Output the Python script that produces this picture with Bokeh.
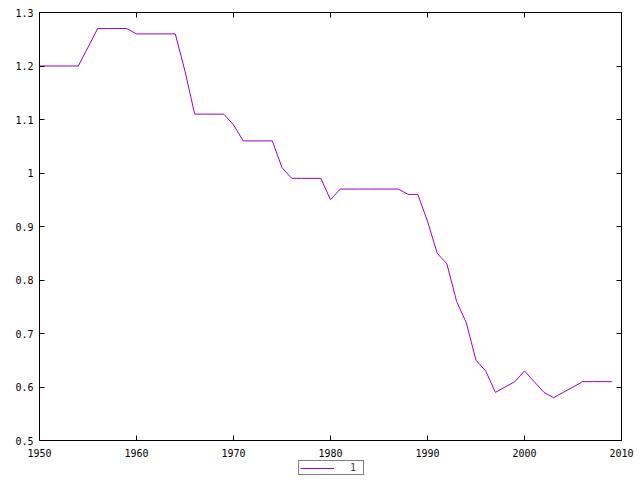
from bokeh.plotting import figure
from bokeh.layouts import column
from bokeh.models import (LinearAxis, FixedTicker, CustomJSTickFormatter, Legend,
                          LegendItem, Range1d)
from bokeh.embed import file_html
from bokeh.resources import INLINE

years = list(range(1950, 2010))
values = [1.20, 1.20, 1.20, 1.20, 1.20, 1.235, 1.27, 1.27, 1.27, 1.27,
          1.26, 1.26, 1.26, 1.26, 1.26, 1.19, 1.11, 1.11, 1.11, 1.11,
          1.09, 1.06, 1.06, 1.06, 1.06, 1.01, 0.99, 0.99, 0.99, 0.99,
          0.95, 0.97, 0.97, 0.97, 0.97, 0.97, 0.97, 0.97, 0.96, 0.96,
          0.91, 0.85, 0.83, 0.76, 0.72, 0.65, 0.63, 0.59, 0.60, 0.61,
          0.63, 0.61, 0.59, 0.58, 0.59, 0.60, 0.61, 0.61, 0.61, 0.61]
x_ticks = [1950, 1960, 1970, 1980, 1990, 2000, 2010]
y_ticks = [0.5, 0.6, 0.7, 0.8, 0.9, 1.0, 1.1, 1.2, 1.3]
series_name = "1"

FONT = "DejaVu Sans Mono"
FS = "10px"
COLOR = "#9400D3"
W, H = 640, 460

p = figure(width=W, height=H, output_backend="svg", toolbar_location=None,
           x_range=Range1d(1950, 2010), y_range=Range1d(0.5, 1.3),
           x_axis_location=None, y_axis_location=None,
           min_border_left=39, min_border_right=W - 621,
           min_border_top=12, min_border_bottom=H - 440)
p.grid.visible = False
p.outline_line_color = "black"
p.outline_line_width = 1
p.background_fill_color = "white"
p.border_fill_color = "white"

fmt = CustomJSTickFormatter(code="return String(Math.round(tick*10)/10);")


def make_axis(ticks, show_labels, standoff):
    ax = LinearAxis(ticker=FixedTicker(ticks=ticks), formatter=fmt)
    ax.axis_line_color = None
    ax.major_tick_in = 5
    ax.major_tick_out = 0
    ax.major_tick_line_color = "black"
    ax.minor_tick_line_color = None
    ax.major_label_standoff = standoff
    ax.major_label_text_font = FONT
    ax.major_label_text_font_size = FS if show_labels else "0px"
    ax.major_label_text_color = "black" if show_labels else None
    return ax


p.add_layout(make_axis(x_ticks, True, 8), "below")
p.add_layout(make_axis(y_ticks, True, 6), "left")
p.add_layout(make_axis(x_ticks, False, 0), "above")
p.add_layout(make_axis(y_ticks, False, 0), "right")

p.line(years, values, line_color=COLOR, line_width=1)

# Legend strip below the plot
p2 = figure(width=W, height=20, output_backend="svg", toolbar_location=None,
            x_range=Range1d(0, 1), y_range=Range1d(0, 1),
            x_axis_location=None, y_axis_location=None,
            min_border_left=0, min_border_right=0,
            min_border_top=0, min_border_bottom=0)
p2.frame_align = False
p2.grid.visible = False
p2.outline_line_color = None
p2.background_fill_color = "white"
p2.border_fill_color = "white"
nan = float("nan")
key = p2.line([nan, nan], [nan, nan], line_color=COLOR, line_width=1)

legend = Legend(items=[LegendItem(label=series_name, renderers=[key])],
                location=(298, 5), orientation="vertical",
                padding=1, spacing=0, margin=0,
                glyph_width=34, glyph_height=8, label_height=8,
                label_standoff=16, label_width=12,
                label_text_font=FONT, label_text_font_size=FS,
                border_line_color="black", border_line_width=1,
                background_fill_color="white", background_fill_alpha=1)
p2.add_layout(legend, "center")

open("out.html", "w").write(file_html(column(p, p2, spacing=0), INLINE))
